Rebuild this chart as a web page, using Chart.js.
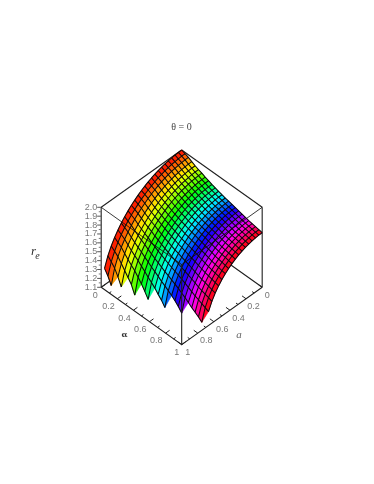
<!DOCTYPE html>
<html><head><meta charset="utf-8">
<style>html,body{margin:0;padding:0;background:#fff}canvas{display:block;filter:blur(.35px)}</style>
<script src="https://cdn.jsdelivr.net/npm/chart.js@4"></script>
</head><body><canvas id="c" width="374" height="484"></canvas>
<script>
const alphaGrid=[0,.0417,.0833,.125,.1667,.2083,.25,.2917,.3333,.375,.4167,.4583,.5,.5417,.5833,.625,.6667,.7083,.75,.7917,.8333,.875,.9167,.9583,1];
const aGrid=[0,.0417,.0833,.125,.1667,.2083,.25,.2917,.3333,.375,.4167,.4583,.5,.5417,.5833,.625,.6667,.7083,.75,.7917,.8333,.875,.9167,.9583,1];
const re00=[2.000,1.985,1.970,1.949,1.930,1.914,1.900,1.883,1.869,1.854,1.843,1.831,1.819,1.809,1.800,1.791,1.781,1.771,1.762,1.752,1.742,1.735,1.728,1.721,1.714];
const re01=[1.999,1.984,1.969,1.948,1.929,1.913,1.899,1.882,1.868,1.853,1.842,1.830,1.818,1.808,1.799,1.790,1.780,1.770,1.761,1.751,1.741,1.734,1.727,1.720,1.713];
const re02=[1.997,1.981,1.966,1.945,1.926,1.910,1.896,1.879,1.865,1.850,1.838,1.826,1.814,1.805,1.796,1.786,1.777,1.767,1.757,1.747,1.737,1.730,1.723,1.716,1.709];
const re03=[1.992,1.977,1.961,1.940,1.921,1.905,1.891,1.874,1.860,1.845,1.833,1.821,1.809,1.799,1.790,1.780,1.771,1.761,1.751,1.741,1.731,1.724,1.717,1.710,1.703];
const re04=[1.986,1.971,1.955,1.934,1.915,1.898,1.884,1.867,1.853,1.838,1.826,1.814,1.801,1.792,1.782,1.773,1.763,1.753,1.743,1.733,1.722,1.716,1.709,1.701,1.694];
const re05=[1.978,1.963,1.947,1.926,1.907,1.890,1.876,1.858,1.844,1.829,1.817,1.804,1.792,1.782,1.773,1.763,1.753,1.743,1.733,1.722,1.712,1.705,1.698,1.691,1.683];
const re06=[1.968,1.953,1.937,1.915,1.896,1.879,1.865,1.847,1.832,1.817,1.805,1.792,1.779,1.770,1.760,1.750,1.740,1.730,1.719,1.709,1.698,1.691,1.684,1.676,1.669];
const re07=[1.957,1.941,1.925,1.903,1.883,1.866,1.851,1.834,1.819,1.803,1.791,1.778,1.765,1.755,1.745,1.735,1.725,1.714,1.704,1.693,1.682,1.675,1.667,1.660,1.652];
const re08=[1.943,1.927,1.910,1.888,1.868,1.851,1.836,1.818,1.802,1.787,1.774,1.761,1.748,1.738,1.727,1.717,1.706,1.696,1.685,1.674,1.663,1.655,1.647,1.640,1.632];
const re09=[1.927,1.911,1.894,1.871,1.851,1.833,1.818,1.800,1.784,1.768,1.754,1.741,1.728,1.717,1.707,1.696,1.685,1.674,1.663,1.651,1.640,1.632,1.624,1.616,1.608];
const re10=[1.909,1.892,1.875,1.852,1.831,1.813,1.798,1.779,1.762,1.746,1.732,1.719,1.705,1.694,1.683,1.672,1.661,1.649,1.638,1.626,1.613,1.605,1.597,1.588,1.580];
const re11=[1.889,1.872,1.854,1.831,1.809,1.791,1.775,1.755,1.738,1.721,1.707,1.693,1.678,1.667,1.656,1.644,1.632,1.620,1.608,1.596,1.583,1.574,1.566,1.557,1.548];
const re12=[1.866,1.849,1.831,1.806,1.784,1.765,1.748,1.728,1.711,1.693,1.678,1.663,1.648,1.636,1.624,1.612,1.600,1.587,1.574,1.561,1.548,1.539,1.529,1.520,1.510];
const re13=[1.841,1.823,1.804,1.779,1.756,1.736,1.719,1.698,1.680,1.661,1.646,1.630,1.614,1.602,1.589,1.576,1.563,1.549,1.535,1.521,1.507,1.497,1.487,1.476,1.465];
const re14=[1.812,1.794,1.774,1.748,1.724,1.703,1.685,1.663,1.644,1.624,1.608,1.591,1.574,1.561,1.547,1.534,1.519,1.505,1.489,1.474,1.458,1.447,1.435,1.424,1.412];
const re15=[1.781,1.761,1.741,1.714,1.689,1.667,1.648,1.624,1.604,1.583,1.565,1.547,1.529,1.514,1.499,1.484,1.468,1.452,1.435,1.418,1.399,1.386,1.373,1.360,1.345];
const re16=[1.745,1.725,1.704,1.675,1.649,1.625,1.605,1.579,1.557,1.534,1.515,1.496,1.475,1.459,1.442,1.425,1.407,1.388,1.368,1.347,1.325,1.309,1.293,1.275,1.257];
const re17=[1.706,1.684,1.662,1.631,1.603,1.577,1.555,1.527,1.503,1.478,1.456,1.434,1.410,1.392,1.372,1.351,1.329,1.305,1.280,1.252,1.220,1.196,1.169,1.136,null];
const re18=[1.661,1.638,1.614,1.581,1.550,1.522,1.497,1.466,1.439,1.409,1.384,1.357,1.328,1.304,1.278,1.250,1.218,1.180,1.132,null,null,null,null,null,null];
const re19=[1.611,1.586,1.560,1.523,1.488,1.456,1.428,1.392,1.358,1.321,1.289,1.252,1.208,1.168,1.115,null,null,null,null,null,null,null,null,null,null];
const re20=[1.553,1.525,1.496,1.453,1.413,1.375,1.340,1.293,1.246,1.189,1.125,null,null,null,null,null,null,null,null,null,null,null,null,null,null];
const re21=[1.484,1.452,1.418,1.367,1.315,1.263,1.211,1.120,null,null,null,null,null,null,null,null,null,null,null,null,null,null,null,null,null];
const re22=[1.400,1.360,1.316,1.244,1.157,null,null,null,null,null,null,null,null,null,null,null,null,null,null,null,null,null,null,null,null];
const re23=[1.286,1.227,1.147,null,null,null,null,null,null,null,null,null,null,null,null,null,null,null,null,null,null,null,null,null,null];
const reRows=[re00,re01,re02,re03,re04,re05,re06,re07,re08,re09,re10,re11,re12,re13,re14,re15,re16,re17,re18,re19,re20,re21,re22,re23];

const zTicks=[1.1,1.2,1.3,1.4,1.5,1.6,1.7,1.8,1.9,2.0];
const zMinor=[1.15,1.25,1.35,1.45,1.55,1.65,1.75,1.85,1.95];
const axisTicks=[0,.2,.4,.6,.8,1];
const axisMinor=[.1,.3,.5,.7,.9];
const axisLabels=['0','0.2','0.4','0.6','0.8','1'];
const zMin=1.1, zMax=2.0;
const titleText='θ = 0';

const DEPTH=.6446;
const P=(al,a,z)=>({x:al-a,y:(z-zMin)-DEPTH*(al+a)});
const line=(pts,w,c)=>({type:'scatter',data:pts,showLine:true,fill:false,pointRadius:0,borderWidth:w,borderColor:c,tension:0});
const BOX='#1e1e1e';

const behind=[
 line([P(0,1,zMin),P(0,0,zMin),P(1,0,zMin)],1.1,BOX),
 line([P(0,0,zMin),P(0,0,zMax)],1.1,BOX),
 line([P(0,0,zMax),P(0,1,zMax)],1.1,BOX),
 line([P(0,0,zMax),P(1,0,zMax)],1.1,BOX),
 line([P(0,1,zMin),P(0,1,zMax)],1.1,BOX),
 line([P(1,0,zMin),P(1,0,zMax)],1.1,BOX),
];
const cells=[];
for(let j=0;j<aGrid.length-1;j++){
 const r0=reRows[j], r1=reRows[j+1];
 for(let i=0;i<alphaGrid.length-1;i++){
  const corners=[[i,j,r0&&r0[i]],[i+1,j,r0&&r0[i+1]],[i+1,j+1,r1&&r1[i+1]],[i,j+1,r1&&r1[i]]]
    .filter(c=>c[2]!=null);
  if(corners.length<3)continue;
  const pts=corners.map(c=>P(alphaGrid[c[0]],aGrid[c[1]],c[2]));
  pts.push(pts[0]);
  const col=`hsl(${360*(alphaGrid[i]+alphaGrid[i+1])/2},100%,50%)`;
  cells.push({k:i+j,ds:{type:'scatter',data:pts,showLine:true,fill:'shape',pointRadius:0,borderWidth:.6,
    borderColor:col,backgroundColor:col,tension:0}});
 }
}
cells.sort((p,q)=>p.k-q.k);
const MESH='#0a0a0a';
const mesh=[];
reRows.forEach((r,j)=>{
 const pts=[];alphaGrid.forEach((al,i)=>{if(r[i]!=null)pts.push(P(al,aGrid[j],r[i]));});
 mesh.push(line(pts,1.05,MESH));
});
alphaGrid.forEach((al,i)=>{
 const pts=[];reRows.forEach((r,j)=>{if(r[i]!=null)pts.push(P(al,aGrid[j],r[i]));});
 mesh.push(line(pts,1.05,MESH));
});
const front=[
 line([P(0,1,zMax),P(1,1,zMax),P(1,0,zMax)],1,'rgba(10,10,10,.8)'),
 line([P(1,1,zMax),P(1,1,zMin)],1.1,BOX),
 line([P(0,1,zMin),P(1,1,zMin),P(1,0,zMin)],1.1,BOX),
];
axisTicks.forEach(t=>{
 front.push(line([P(t,1,zMin),P(t,.95,zMin)],1,BOX));
 front.push(line([P(1,t,zMin),P(.95,t,zMin)],1,BOX));
});
axisMinor.forEach(t=>{
 front.push(line([P(t,1,zMin),P(t,.975,zMin)],1,BOX));
 front.push(line([P(1,t,zMin),P(.975,t,zMin)],1,BOX));
});
zTicks.forEach(z=>{const p=P(0,1,z);front.push(line([p,{x:p.x-.05,y:p.y}],1,'#555'));});
zMinor.forEach(z=>{const p=P(0,1,z);front.push(line([p,{x:p.x-.03,y:p.y}],1,'#777'));});

const ordered=[...behind,...cells.map(c=>c.ds),...mesh,...front];
ordered.forEach((d,n)=>{d.order=ordered.length-n;});

const labels={id:'labels',afterDraw(ch){
 const c=ch.ctx,sx=ch.scales.x,sy=ch.scales.y;
 const at=(p)=>[sx.getPixelForValue(p.x),sy.getPixelForValue(p.y)];
 c.save();c.textBaseline='middle';
 c.font='9px "Liberation Sans"';c.fillStyle='#777';c.textAlign='right';
 zTicks.forEach(z=>{const [x,y]=at(P(0,1,z));c.fillText(z.toFixed(1),x-4,y);});
 c.textAlign='center';
 const oa=[[-6,8.3],[-8.8,8],[-8.9,8.2],[-9.3,7.5],[-9.4,7.5],[-5,7.7]];
 const ob=[[5,8.3],[7.4,8],[8.5,8],[8.3,7.5],[8.4,7.5],[6,7.7]];
 axisTicks.forEach((t,n)=>{
  let [x,y]=at(P(t,1,zMin));c.fillText(axisLabels[n],x+oa[n][0],y+oa[n][1]);
  [x,y]=at(P(1,t,zMin));c.fillText(axisLabels[n],x+ob[n][0],y+ob[n][1]);
 });
 c.fillStyle='#333';c.font='bold 8px "DejaVu Serif"';
 let [x,y]=at(P(.55,1,zMin));c.fillText('α',x-21,y+16);
 c.fillStyle='#666';c.font='italic 11px "Liberation Serif"';
 [x,y]=at(P(1,.55,zMin));c.fillText('a',x+21,y+16);
 c.fillStyle='#444';c.font='10px "Liberation Serif"';
 c.fillText(titleText,181.5,127.5);
 c.fillStyle='#333';c.font='italic 13px "Liberation Serif"';c.fillText('r',33.5,252);
 c.font='italic 10px "Liberation Serif"';c.fillText('e',37.5,256.5);
 c.restore();
}};

new Chart(document.getElementById('c'),{
 type:'scatter',
 data:{datasets:ordered},
 options:{responsive:false,animation:false,
  layout:{padding:0},
  plugins:{legend:{display:false},tooltip:{enabled:false},filler:{propagate:false}},
  elements:{line:{borderJoinStyle:'round',capBezierPoints:false}},
  scales:{
   x:{type:'linear',display:false,min:-2.257,max:2.389},
   y:{type:'linear',display:false,min:-2.857,max:2.587}
  }},
 plugins:[labels]
});
</script></body></html>
